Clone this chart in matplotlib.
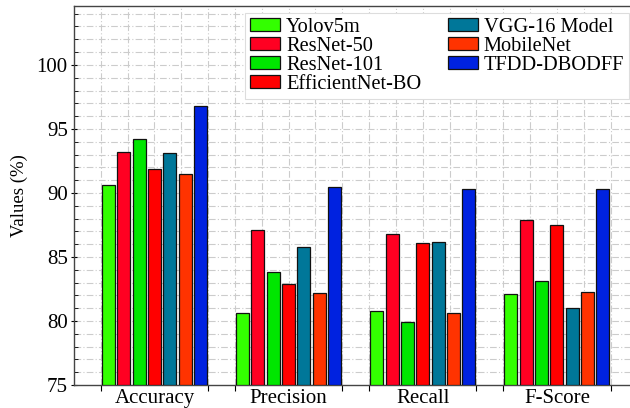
import matplotlib
matplotlib.use("Agg")
import matplotlib.pyplot as plt
import numpy as np
from matplotlib.ticker import MultipleLocator, FixedLocator

categories = ["Accuracy", "Precision", "Recall", "F-Score"]
models = ["Yolov5m", "ResNet-50", "ResNet-101", "EfficientNet-BO",
          "VGG-16 Model", "MobileNet", "TFDD-DBODFF"]
yolov5m = [90.6, 80.6, 80.8, 82.1]
resnet50 = [93.2, 87.1, 86.8, 87.9]
resnet101 = [94.2, 83.8, 79.9, 83.1]
efficientnet = [91.9, 82.9, 86.1, 87.5]
vgg16 = [93.1, 85.8, 86.2, 81.0]
mobilenet = [91.5, 82.2, 80.6, 82.3]
tfdd = [96.8, 90.5, 90.3, 90.3]
series = [yolov5m, resnet50, resnet101, efficientnet, vgg16, mobilenet, tfdd]
colors = ["#33ff00", "#ff0022", "#00e600", "#ff0000", "#007799", "#ff3300", "#0022e0"]

plt.rcParams['font.family'] = ['Liberation Serif', 'DejaVu Serif']

fig = plt.figure(figsize=(6.3, 4.08), dpi=100)
ax = fig.add_axes([74/630, 23/408, (632-74)/630, (385-6)/408])

n = len(series)
slot = 4.0 / n
centers = np.array([3 + 5 * i for i in range(len(categories))], dtype=float)
for j, (vals, c, name) in enumerate(zip(series, colors, models)):
    x = centers - 2 + (j + 0.5) * slot
    ax.bar(x, np.array(vals) - 75, bottom=75, width=slot * 0.85, color=c,
           edgecolor="#111111", linewidth=0.9, label=name, zorder=3)

ax.set_ylim(75, 104.6)
ax.set_xlim(0, 20.8)
ax.yaxis.set_minor_locator(MultipleLocator(1))
ax.set_yticks([75, 80, 85, 90, 95, 100])
ax.set_xticks(centers)
ax.set_xticklabels(categories)
edges = []
for c in centers:
    edges += [c - 2, c + 2]
ax.xaxis.set_minor_locator(FixedLocator(edges))
ax.tick_params(axis='x', which='major', length=0, labelsize=15, pad=3)
ax.tick_params(axis='x', which='minor', length=4, width=0.8, direction='out')
ax.tick_params(axis='y', which='major', length=5, width=0.8, direction='inout', labelsize=15, pad=2)
ax.tick_params(axis='y', which='minor', length=3, width=0.6, direction='in')

# grid: dashed at every unit in both directions
for yv in np.arange(76, 105, 1):
    ax.axhline(yv, color="#cccccc", linestyle=(0, (6, 2, 1, 2)), linewidth=0.8, zorder=0)
for xv in np.arange(1, 21, 1):
    ax.axvline(xv, color="#cccccc", linestyle=(0, (6, 2, 1, 2)), linewidth=0.8, zorder=0)

for s in ax.spines.values():
    s.set_color("#444444")
    s.set_linewidth(1.0)

ax.set_ylabel("Values (%)", fontsize=13.5, labelpad=6)

leg = ax.legend(ncol=2, loc='upper right', bbox_to_anchor=(0.995, 0.982), fontsize=14.7,
                frameon=True, fancybox=False, edgecolor="#dddddd", framealpha=1,
                handlelength=1.45, handleheight=0.6, handletextpad=0.3,
                columnspacing=1.3, labelspacing=0.0, borderpad=0.25, borderaxespad=0)
leg.get_frame().set_linewidth(0.8)

fig.savefig("out.png", dpi=100)
